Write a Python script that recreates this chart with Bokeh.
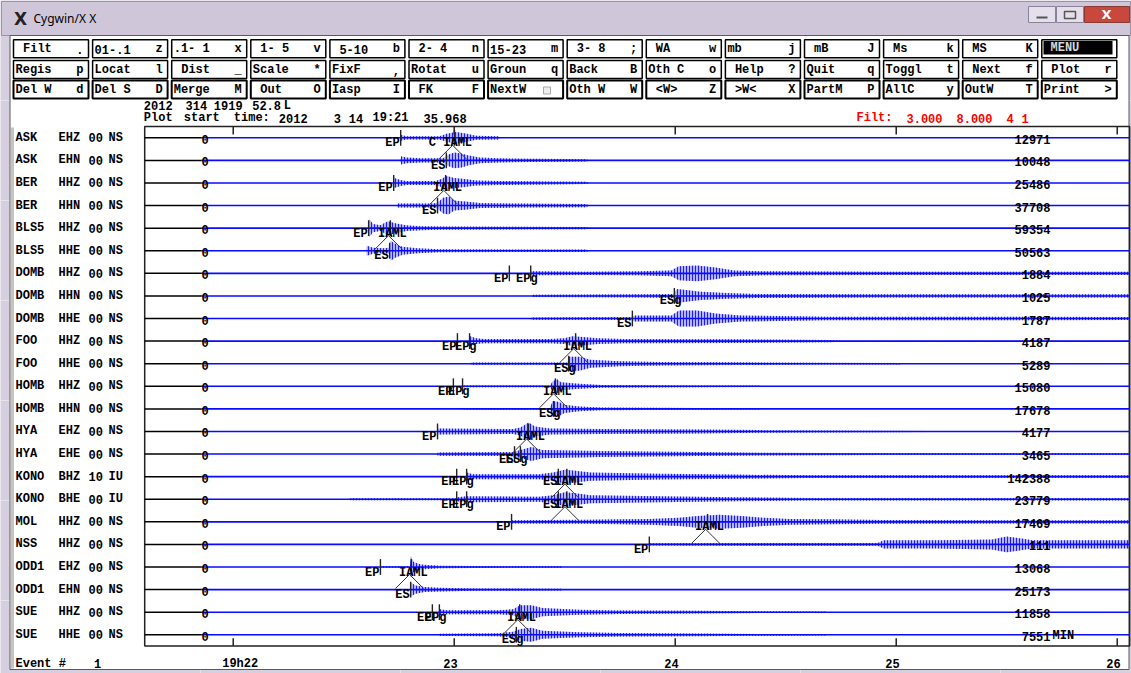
from bokeh.plotting import figure
from bokeh.models import Range1d
from bokeh.core.properties import value
from bokeh.embed import file_html
from bokeh.resources import INLINE

# ---------------------------------------------------------------- data
STATIONS = ["ASK", "ASK", "BER", "BER", "BLS5", "BLS5", "DOMB", "DOMB", "DOMB", "FOO", "FOO",
            "HOMB", "HOMB", "HYA", "HYA", "KONO", "KONO", "MOL", "NSS", "ODD1", "ODD1", "SUE", "SUE"]
COMPONENTS = ["EHZ", "EHN", "HHZ", "HHN", "HHZ", "HHE", "HHZ", "HHN", "HHE", "HHZ", "HHE",
              "HHZ", "HHN", "EHZ", "EHE", "BHZ", "BHE", "HHZ", "HHZ", "EHZ", "EHN", "HHZ", "HHE"]
LOCATIONS = ["00"] * 15 + ["10", "00"] + ["00"] * 6
NETWORKS = ["NS"] * 15 + ["IU", "IU"] + ["NS"] * 6
MAX_AMPLITUDE = [12971, 10048, 25486, 37708, 59354, 50563, 1884, 1025, 1787, 4187, 5289,
                 15080, 17678, 4177, 3465, 142388, 23779, 17469, 111, 13068, 25173, 11858, 7551]

# waveform envelopes: (seconds after plot start, half amplitude in % of trace spacing)
ask_ehz = [(69.4, 0), (69.6, 13), (71, 7), (80, 7), (82, 18), (84.5, 26), (87.5, 18), (90, 9), (96, 7), (96.6, 0)]
ask_ehn = [(69.4, 0), (69.6, 18), (71, 13), (75, 9), (81, 9), (82.5, 26), (84, 35), (86, 31), (88, 22), (91, 13),
           (96, 9), (105, 7), (115, 6), (120, 5), (120.5, 0)]
ber_hhz = [(67.5, 0), (67.7, 22), (69.5, 13), (71, 9), (79, 9), (80.5, 18), (82, 31), (84, 22), (87, 18), (90, 11),
           (96, 9), (110, 7), (120, 5), (120.5, 0)]
ber_hhn = [(68.5, 0), (68.7, 9), (78, 9), (79.5, 13), (81, 35), (82.5, 40), (84, 22), (87, 18), (91, 11), (100, 9),
           (120, 7), (120.5, 0)]
bls5_hhz = [(60.7, 0), (60.9, 40), (62, 18), (64, 13), (66, 31), (68, 22), (71, 13), (75, 9), (80, 7), (100, 6),
            (120, 5), (120.5, 0)]
bls5_hhe = [(60.1, 0), (60.3, 22), (62, 13), (65, 11), (66.4, 13), (66.8, 44), (68, 31), (70, 18), (74, 11), (80, 7),
            (100, 6), (120, 5), (120.5, 0)]
domb_hhz = [(104.7, 0), (104.9, 9), (120, 7), (134, 9), (143, 13), (145, 31), (150, 35), (155, 26), (160, 13),
            (168, 9), (200, 7), (267.4, 7)]
domb_hhn = [(105.1, 0), (105.3, 5), (135, 7), (143.5, 9), (144.5, 31), (147, 26), (151, 18), (158, 13), (166, 9),
            (200, 7), (267.4, 7)]
domb_hhe = [(104.7, 0), (104.9, 5), (132, 7), (133, 13), (143, 13), (145, 35), (150, 35), (155, 22), (162, 13),
            (172, 11), (185, 8), (267.4, 7)]
foo_hhz = [(88.1, 0), (88.3, 22), (90, 13), (92, 9), (110, 9), (114, 13), (116, 22), (119, 18), (123, 13), (130, 9),
           (160, 8), (186, 5), (190, 2), (267.4, 2)]
foo_hhe = [(88.4, 0), (88.6, 5), (114.8, 5), (115.2, 31), (118, 31), (121, 18), (129, 11), (140, 8), (162, 6),
           (185, 4), (205, 3), (205.5, 0)]
homb_hhz = [(86.2, 0), (86.4, 4), (110, 4), (110.8, 22), (112, 31), (113, 18), (118, 11), (124, 6), (150, 4),
            (167, 3), (167.5, 0)]
homb_hhn = [(86.2, 0), (86.4, 3), (110, 4), (110.8, 35), (112.5, 31), (114, 18), (118, 11), (124, 6), (150, 4),
            (167, 3), (167.5, 0)]
hya_ehz = [(79.4, 0), (79.6, 13), (100, 11), (102, 18), (104.2, 40), (106, 22), (110, 13), (124, 11), (150, 9),
           (167, 6), (200, 3), (213, 2), (213.5, 0)]
hya_ehe = [(79.4, 0), (79.6, 7), (100, 9), (101, 13), (103, 22), (105, 31), (108, 18), (124, 13), (150, 9), (167, 6),
           (200, 4), (267.4, 4)]
kono_bhz = [(87.3, 0), (87.5, 18), (89, 11), (107, 11), (111, 18), (114, 31), (117, 26), (121, 18), (140, 13),
            (160, 9), (180, 6), (267.4, 6)]
kono_bhe = [(55, 0), (56, 4), (84.6, 4), (84.8, 9), (87.5, 13), (107, 11), (111, 18), (114, 31), (117, 26),
            (121, 18), (140, 13), (160, 9), (180, 6), (267.4, 6)]
mol_hhz = [(99.5, 0), (99.7, 7), (120, 9), (130, 11), (137, 13), (145, 18), (150, 26), (156, 31), (162, 26),
           (168, 18), (175, 13), (186, 11), (200, 8), (267.4, 7)]
nss_hhz = [(136.9, 0), (137.1, 5), (160, 6), (199, 6), (200.6, 18), (215, 18), (230, 22), (234, 35), (238, 26),
           (241, 18), (267.4, 18)]
odd1_ehz = [(64.0, 0), (64.1, 3), (72, 3), (72.3, 49), (73, 22), (75, 11), (80, 6), (90, 4), (113, 3), (113.5, 0)]
odd1_ehn = [(72.1, 0), (72.3, 31), (73.5, 18), (76, 11), (80, 8), (90, 5), (113, 4), (113.5, 0)]
sue_hhz = [(79.9, 0), (80.1, 13), (82, 9), (96, 9), (100, 13), (102, 31), (105, 31), (108, 18), (118, 11), (129, 8),
           (150, 6), (167, 4), (185, 3), (185.5, 0)]
sue_hhe = [(79.9, 0), (80.1, 5), (96, 7), (100, 13), (102, 26), (105, 31), (108, 18), (118, 11), (129, 8), (150, 6),
           (167, 4), (185, 3), (185.5, 0)]
ENVELOPES = [ask_ehz, ask_ehn, ber_hhz, ber_hhn, bls5_hhz, bls5_hhe, domb_hhz, domb_hhn, domb_hhe, foo_hhz,
             foo_hhe, homb_hhz, homb_hhn, hya_ehz, hya_ehe, kono_bhz, kono_bhe, mol_hhz, nss_hhz, odd1_ehz,
             odd1_ehn, sue_hhz, sue_hhe]

# phase readings
PICK_TRACE = [0, 0, 1, 2, 2, 3, 4, 4, 5, 6, 6, 7, 8, 9, 9, 9, 10, 11, 11, 11, 12, 13, 13, 14, 14,
              15, 15, 15, 15, 16, 16, 16, 16, 17, 17, 18, 19, 19, 20, 21, 21, 21, 22]
PICK_TIME = [69.5, 84.1, 81.9, 67.6, 81.7, 79.5, 60.8, 66.7, 66.5, 99.0, 104.8, 143.8, 132.4, 84.9, 88.2, 117.0,
             115.1, 83.8, 86.3, 111.5, 111.0, 79.5, 104.2, 100.4, 102.0, 84.7, 87.4, 112.3, 114.6, 84.7, 87.4,
             112.3, 114.6, 99.6, 152.8, 137.0, 64.0, 72.4, 72.2, 78.1, 80.0, 101.8, 100.9]
PICK_PHASE = ["EP", "C IAML", "ES", "EP", "IAML", "ES", "EP", "IAML", "ES", "EP", "EPg", "ESg", "ES", "EP", "EPg",
              "IAML", "ESg", "EP", "EPg", "IAML", "ESg", "EP", "IAML", "ES", "ESg", "EP", "EPg", "ES", "IAML",
              "EP", "EPg", "ES", "IAML", "EP", "IAML", "EP", "EP", "IAML", "ES", "EP", "EPg", "IAML", "ESg"]

# time axis (minutes after 19h00) and plot start
PLOT_START_MIN = 21 + 35.968 / 60
TICK_MINUTES = [22, 23, 24, 25, 26]
TICK_LABELS = ["19h22", "23", "24", "25", "26"]
TRACE_END = 267.4      # seconds shown
PRE_DATA_END = 15.5    # black zero line before data

# menu
ROW1_LABELS = [" Filt", "01-.1", ".1- 1", " 1- 5", " 5-10", " 2- 4", "15-23", " 3- 8", " WA", "mb", " mB", " Ms", " MS", ""]
ROW1_KEYS = [".", "z", "x", "v", "b", "n", "m", ";", "w", "j", "J", "k", "K", ""]
ROW2_LABELS = ["Regis", "Locat", " Dist", "Scale", "FixF", "Rotat", "Groun", "Back", "Oth C", " Help", "Quit", "Toggl", " Next", " Plot"]
ROW2_KEYS = ["p", "l", "_", "*", ",", "u", "q", "B", "o", "?", "q", "t", "f", "r"]
ROW3_LABELS = ["Del W", "Del S", "Merge", " Out", "Iasp", " FK", "NextW", "Oth W", " <W>", " >W<", "PartM", "AllC", "OutW", "Print"]
ROW3_KEYS = ["d", "D", "M", "O", "I", "F", "", "W", "Z", "X", "P", "y", "T", ">"]

# ---------------------------------------------------------------- layout
CL, CR, CT, CB = 0, 1131, 0, 673
T0_PX = 144.2
PX_PER_S = 221 / 60
ROW0_PX = 137.3
ROW_PX = 22.59
FRAME = "#d6cfe0"
BLUE = "#0a0aff"
MONO = "Liberation Mono"

p = figure(width=CR - CL, height=CB - CT, x_range=Range1d(CL, CR), y_range=Range1d(CB, CT),
           output_backend="svg", toolbar_location=None, x_axis_location=None, y_axis_location=None,
           min_border=0, outline_line_color=None, background_fill_color=FRAME, border_fill_color=FRAME)
p.extra_x_ranges = {"t": Range1d((CL - T0_PX) / PX_PER_S, (CR - T0_PX) / PX_PER_S)}
p.extra_y_ranges = {"tr": Range1d((CB - ROW0_PX) / ROW_PX, (CT - ROW0_PX) / ROW_PX)}


def txt(xs, ys, texts, align="left", size="12px", color="black", font=MONO, style="bold",
        xr="default", yr="default", xo=0, yo=0):
    p.text(x=list(xs), y=list(ys), text=list(texts), text_align=align, text_baseline="middle",
           text_font=value(font), text_font_style=style, text_font_size=size, text_color=color,
           x_offset=xo, y_offset=yo, x_range_name=xr, y_range_name=yr)


# window chrome
p.quad(left=[1], right=[1130], top=[1], bottom=[35], fill_color="#d0c6da", line_color="#9a92a6", line_width=1)
p.quad(left=[9.5], right=[1128.5], top=[35], bottom=[669], fill_color="white", line_color="#5a5a5a", line_width=1)
txt([20], [18], ["X"], align="center", size="17px", font="DejaVu Sans", color="#222222")
txt([33], [18], ["Cygwin/X X"], size="12px", font="Noto Sans", style="normal")
p.quad(left=[1028, 1056], right=[1055, 1083], top=[6, 6], bottom=[22, 22], fill_color="#e4dfea",
       line_color="#8a8396")
p.quad(left=[1084], right=[1129], top=[6], bottom=[22], fill_color="#c9483e", line_color="#8a3a35")
p.segment(x0=[1036], y0=[17], x1=[1047], y1=[17], line_color="#555555", line_width=2)
p.quad(left=[1064], right=[1075], top=[11], bottom=[18], fill_color=None, line_color="#555555", line_width=1.5)
txt([1106], [14], ["X"], align="center", size="13px", font="DejaVu Sans", color="white")
p.segment(x0=[12], y0=[127], x1=[12], y1=[668], line_color="#c4c4c4", line_width=3)

# menu buttons
for r, (labels, keys, top) in enumerate([(ROW1_LABELS, ROW1_KEYS, 39.3), (ROW2_LABELS, ROW2_KEYS, 60.0),
                                         (ROW3_LABELS, ROW3_KEYS, 80.0)]):
    lefts = [13 + 79.1 * j for j in range(14)]
    p.quad(left=lefts, right=[l + 75 for l in lefts], top=[top] * 14, bottom=[top + 18] * 14,
           fill_color="white", line_color="black", line_width=2.0 if r == 2 else 1.5)
    lx = [l + 2 + 7.5 * (len(s) - len(s.lstrip())) for l, s in zip(lefts, labels)]
    txt(lx, [top + 9.5] * 14, [s.strip() for s in labels])
    txt([l + 70 for l in lefts], [top + 9.5] * 14, keys, align="right")
p.quad(left=[1043], right=[1112], top=[40.5], bottom=[54], fill_color="black", line_color=None)
txt([1050], [47.5], ["MENU"], color="#d8d8d8")
p.quad(left=[543], right=[550], top=[86.5], bottom=[93.5], fill_color="#eeeeee", line_color="#aaaaaa")

# header lines
txt([143.3, 185, 213.3, 251.7, 283.3], [105] * 5, ["2012", "314", "1919", "52.8", "L"])
txt([143.3, 183.3, 233.3, 278.3, 333.3, 348.3, 372, 423], [117.5] * 8,
    ["Plot", "start", "time:", "2012", "3", "14", "19:21", "35.968"])
txt([856, 906, 956, 1006, 1021], [117.5] * 5, ["Filt:", "3.000", "8.000", "4", "1"], color="#ff0000")

# trace frame and time ticks
p.quad(left=[0], right=[TRACE_END], top=[-0.5], bottom=[22.5], fill_color=None, line_color="#222222",
       line_width=1.5, x_range_name="t", y_range_name="tr")
tick_t = [(m - PLOT_START_MIN) * 60 for m in TICK_MINUTES]
n = len(tick_t)
p.segment(x0=tick_t * 2, y0=[-0.5] * n + [22.5] * n, x1=tick_t * 2, y1=[-0.15] * n + [22.15] * n,
          line_color="#222222", line_width=1.5, x_range_name="t", y_range_name="tr")
txt(tick_t, [663] * n, TICK_LABELS, xr="t", xo=-11)
txt([15], [663], ["Event #"])
txt([97], [663], ["1"], align="center")

# traces
for i, env in enumerate(ENVELOPES):
    ts = [e[0] for e in env]
    amps = [e[1] / 100 for e in env]
    p.varea(x=ts, y1=[i - a for a in amps], y2=[i + a for a in amps], fill_color=BLUE, fill_alpha=0.3,
            hatch_pattern="vertical_line", hatch_color=BLUE, hatch_scale=3, hatch_weight=1, hatch_alpha=0.9,
            x_range_name="t", y_range_name="tr")
    p.line([0, PRE_DATA_END], [i, i], line_color="black", line_width=1.5, x_range_name="t", y_range_name="tr")
    p.line([PRE_DATA_END, TRACE_END], [i, i], line_color=BLUE, line_width=1.6, x_range_name="t",
           y_range_name="tr")

rows = list(range(len(STATIONS)))
txt([15] * len(rows), rows, STATIONS, yr="tr")
txt([58] * len(rows), rows, COMPONENTS, yr="tr")
txt([88] * len(rows), rows, LOCATIONS, yr="tr")
txt([108] * len(rows), rows, NETWORKS, yr="tr")
txt([204.5] * len(rows), rows, ["0"] * len(rows), align="center", yr="tr", yo=1.5)
txt([1050] * len(rows), rows, [str(v) for v in MAX_AMPLITUDE], align="right", yr="tr", yo=1.5)
txt([1052], [22], ["MIN"], yr="tr", yo=1.5)

# phase picks
p.segment(x0=PICK_TIME, y0=[k - 0.35 for k in PICK_TRACE], x1=PICK_TIME, y1=[k + 0.35 for k in PICK_TRACE],
          line_color="#222222", line_width=1.4, x_range_name="t", y_range_name="tr")
groups = {"plain": ([], [], []), "g": ([], [], []), "amp": ([], [], []), "camp": ([], [], [])}
for k, t, ph in zip(PICK_TRACE, PICK_TIME, PICK_PHASE):
    key = "camp" if ph.startswith("C ") else "amp" if "IAML" in ph else "g" if ph.endswith("g") else "plain"
    groups[key][0].append(t)
    groups[key][1].append(k)
    groups[key][2].append(ph)
for key, align, xo in [("plain", "right", -1), ("g", "right", 7), ("amp", "center", 2), ("camp", "center", -4)]:
    ts, ks, phs = groups[key]
    if ts:
        txt(ts, ks, phs, align=align, xr="t", yr="tr", xo=xo, yo=5.5)
amp_t = [t for t, ph in zip(PICK_TIME, PICK_PHASE) if "IAML" in ph]
amp_k = [k for k, ph in zip(PICK_TRACE, PICK_PHASE) if "IAML" in ph]
apex = [t - 0.5 for t in amp_t]
p.segment(x0=apex * 2, y0=[k + 0.33 for k in amp_k] * 2,
          x1=[a - 3.8 for a in apex] + [a + 3.8 for a in apex], y1=[k + 0.95 for k in amp_k] * 2,
          line_color="#333333", line_width=1, x_range_name="t", y_range_name="tr")

open("out.html", "w").write(file_html(p, INLINE))
